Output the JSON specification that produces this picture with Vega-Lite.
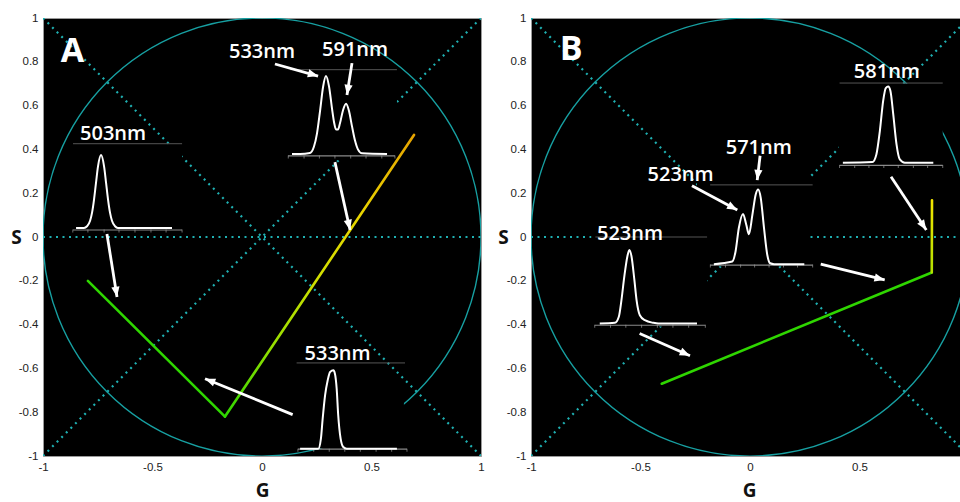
{
"$schema":"https://vega.github.io/schema/vega-lite/v6.json",
"background":"white",
"padding":{"left":10,"top":11,"right":0,"bottom":0},
"spacing":12,
"config":{
 "locale":{"number":{"decimal":".","thousands":",","grouping":[3],"currency":["$",""],"minus":"-"}},
 "view":{"fill":"black","stroke":"#9a9a9a","strokeWidth":1},
 "axis":{"labelFont":"Liberation Sans","labelFontSize":11.5,"labelColor":"#222","ticks":false,"domain":false,"grid":false,"labelPadding":5,"labelFlush":false,"titleFont":"Open Sans","titleFontSize":19,"titleFontWeight":"bold","titleColor":"#111"}
},
"datasets":{
 "circle":[{"panel":"A","G":0,"S":0},{"panel":"B","G":0,"S":0}],
 "guides":[
  {"panel":"A","G":-1,"S":1,"G2":1,"S2":-1},{"panel":"A","G":-1,"S":-1,"G2":1,"S2":1},{"panel":"A","G":-1,"S":0,"G2":1,"S2":0},
  {"panel":"B","G":-1,"S":1,"G2":1,"S2":-1},{"panel":"B","G":-1,"S":-1,"G2":1,"S2":1},{"panel":"B","G":-1,"S":0,"G2":1,"S2":0}],
 "masks":[
  {"panel":"A","G":-0.863,"G2":-0.365,"S":0.42,"S2":0.014},
  {"panel":"A","G":0.119,"G2":0.616,"S":0.77,"S2":0.352},
  {"panel":"A","G":0.155,"G2":0.648,"S":-0.685,"S2":-0.963},
  {"panel":"B","G":-0.724,"G2":-0.196,"S":0.05,"S2":-0.409},
  {"panel":"B","G":-0.242,"G2":0.27,"S":0.431,"S2":-0.134},
  {"panel":"B","G":0.406,"G2":0.88,"S":0.70,"S2":0.316}],
 "paths":[
  {"panel":"A","G":-0.795,"S":-0.2},{"panel":"A","G":-0.169,"S":-0.82},
  {"panel":"B","G":-0.403,"S":-0.67},{"panel":"B","G":0.83,"S":-0.162}],
 "ramps":[
  {"panel":"A","G":-0.169,"S":-0.82},{"panel":"A","G":0.694,"S":0.466},
  {"panel":"B","G":0.83,"S":-0.162},{"panel":"B","G":0.831,"S":0.168}],
 "arrows":[
  {"panel":"A","G":-0.708,"S":0.014,"G2":-0.662,"S2":-0.274},
  {"panel":"A","G":0.333,"S":0.342,"G2":0.402,"S2":0.032},
  {"panel":"A","G":0.14,"S":-0.811,"G2":-0.26,"S2":-0.647},
  {"panel":"A","G":0.059,"S":0.79,"G2":0.256,"S2":0.735},
  {"panel":"A","G":0.411,"S":0.794,"G2":0.388,"S2":0.648},
  {"panel":"B","G":-0.504,"S":-0.441,"G2":-0.274,"S2":-0.542},
  {"panel":"B","G":-0.265,"S":0.234,"G2":-0.058,"S2":0.123},
  {"panel":"B","G":0.046,"S":0.371,"G2":0.033,"S2":0.26},
  {"panel":"B","G":0.644,"S":0.275,"G2":0.805,"S2":0.032},
  {"panel":"B","G":0.323,"S":-0.124,"G2":0.615,"S2":-0.196}],
 "frames":[
  {"panel":"A","kind":"head","G":-0.863,"G2":-0.365,"S":0.426},
  {"panel":"A","kind":"base","G":-0.863,"G2":-0.365,"S":0.032},
  {"panel":"A","kind":"head","G":0.128,"G2":0.616,"S":0.764},
  {"panel":"A","kind":"base","G":0.119,"G2":0.607,"S":0.37},
  {"panel":"A","kind":"head","G":0.158,"G2":0.653,"S":-0.575},
  {"panel":"A","kind":"base","G":0.164,"G2":0.662,"S":-0.969},
  {"panel":"B","kind":"head","G":-0.706,"G2":-0.196,"S":0.0},
  {"panel":"B","kind":"base","G":-0.709,"G2":-0.204,"S":-0.403},
  {"panel":"B","kind":"head","G":-0.182,"G2":0.286,"S":0.238},
  {"panel":"B","kind":"base","G":-0.182,"G2":0.286,"S":-0.128},
  {"panel":"B","kind":"head","G":0.409,"G2":0.88,"S":0.703},
  {"panel":"B","kind":"base","G":0.409,"G2":0.88,"S":0.327}],
 "ticks":[
  {"panel":"A","G":-0.864,"S":0.032},{"panel":"A","G":-0.795,"S":0.032},{"panel":"A","G":-0.721,"S":0.032},{"panel":"A","G":-0.653,"S":0.032},{"panel":"A","G":-0.58,"S":0.032},{"panel":"A","G":-0.507,"S":0.032},{"panel":"A","G":-0.438,"S":0.032},{"panel":"A","G":-0.365,"S":0.032},
  {"panel":"A","G":0.12,"S":0.37},{"panel":"A","G":0.192,"S":0.37},{"panel":"A","G":0.262,"S":0.37},{"panel":"A","G":0.333,"S":0.37},{"panel":"A","G":0.405,"S":0.37},{"panel":"A","G":0.475,"S":0.37},{"panel":"A","G":0.547,"S":0.37},{"panel":"A","G":0.607,"S":0.37},
  {"panel":"A","G":0.164,"S":-0.969},{"panel":"A","G":0.236,"S":-0.969},{"panel":"A","G":0.307,"S":-0.969},{"panel":"A","G":0.378,"S":-0.969},{"panel":"A","G":0.449,"S":-0.969},{"panel":"A","G":0.521,"S":-0.969},{"panel":"A","G":0.592,"S":-0.969},{"panel":"A","G":0.662,"S":-0.969},
  {"panel":"B","G":-0.709,"S":-0.403},{"panel":"B","G":-0.637,"S":-0.403},{"panel":"B","G":-0.567,"S":-0.403},{"panel":"B","G":-0.495,"S":-0.403},{"panel":"B","G":-0.423,"S":-0.403},{"panel":"B","G":-0.352,"S":-0.403},{"panel":"B","G":-0.28,"S":-0.403},{"panel":"B","G":-0.204,"S":-0.403},
  {"panel":"B","G":-0.181,"S":-0.128},{"panel":"B","G":-0.112,"S":-0.128},{"panel":"B","G":-0.043,"S":-0.128},{"panel":"B","G":0.021,"S":-0.128},{"panel":"B","G":0.087,"S":-0.128},{"panel":"B","G":0.153,"S":-0.128},{"panel":"B","G":0.217,"S":-0.128},{"panel":"B","G":0.286,"S":-0.128},
  {"panel":"B","G":0.409,"S":0.327},{"panel":"B","G":0.478,"S":0.327},{"panel":"B","G":0.543,"S":0.327},{"panel":"B","G":0.611,"S":0.327},{"panel":"B","G":0.677,"S":0.327},{"panel":"B","G":0.746,"S":0.327},{"panel":"B","G":0.811,"S":0.327},{"panel":"B","G":0.88,"S":0.327}],
 "spectra":[
  {"panel":"A","inset":"a1","G":-0.849,"S":0.041},{"panel":"A","inset":"a1","G":-0.813,"S":0.041},{"panel":"A","inset":"a1","G":-0.799,"S":0.049},{"panel":"A","inset":"a1","G":-0.785,"S":0.074},{"panel":"A","inset":"a1","G":-0.776,"S":0.111},{"panel":"A","inset":"a1","G":-0.767,"S":0.171},{"panel":"A","inset":"a1","G":-0.758,"S":0.247},{"panel":"A","inset":"a1","G":-0.749,"S":0.321},{"panel":"A","inset":"a1","G":-0.735,"S":0.374},{"panel":"A","inset":"a1","G":-0.721,"S":0.321},{"panel":"A","inset":"a1","G":-0.712,"S":0.247},{"panel":"A","inset":"a1","G":-0.703,"S":0.171},{"panel":"A","inset":"a1","G":-0.694,"S":0.111},{"panel":"A","inset":"a1","G":-0.685,"S":0.074},{"panel":"A","inset":"a1","G":-0.671,"S":0.049},{"panel":"A","inset":"a1","G":-0.658,"S":0.041},{"panel":"A","inset":"a1","G":-0.411,"S":0.041},
  {"panel":"A","inset":"a2","G":0.137,"S":0.379},{"panel":"A","inset":"a2","G":0.174,"S":0.379},{"panel":"A","inset":"a2","G":0.219,"S":0.384},{"panel":"A","inset":"a2","G":0.237,"S":0.412},{"panel":"A","inset":"a2","G":0.251,"S":0.472},{"panel":"A","inset":"a2","G":0.265,"S":0.575},{"panel":"A","inset":"a2","G":0.279,"S":0.686},{"panel":"A","inset":"a2","G":0.292,"S":0.735},{"panel":"A","inset":"a2","G":0.306,"S":0.688},{"panel":"A","inset":"a2","G":0.32,"S":0.584},{"panel":"A","inset":"a2","G":0.329,"S":0.524},{"panel":"A","inset":"a2","G":0.338,"S":0.491},{"panel":"A","inset":"a2","G":0.347,"S":0.491},{"panel":"A","inset":"a2","G":0.356,"S":0.519},{"panel":"A","inset":"a2","G":0.37,"S":0.579},{"panel":"A","inset":"a2","G":0.384,"S":0.608},{"panel":"A","inset":"a2","G":0.397,"S":0.576},{"panel":"A","inset":"a2","G":0.411,"S":0.505},{"panel":"A","inset":"a2","G":0.425,"S":0.439},{"panel":"A","inset":"a2","G":0.438,"S":0.4},{"panel":"A","inset":"a2","G":0.457,"S":0.382},{"panel":"A","inset":"a2","G":0.571,"S":0.379},
  {"panel":"A","inset":"a3","G":0.174,"S":-0.967},{"panel":"A","inset":"a3","G":0.257,"S":-0.967},{"panel":"A","inset":"a3","G":0.269,"S":-0.921},{"panel":"A","inset":"a3","G":0.277,"S":-0.83},{"panel":"A","inset":"a3","G":0.288,"S":-0.723},{"panel":"A","inset":"a3","G":0.3,"S":-0.654},{"panel":"A","inset":"a3","G":0.311,"S":-0.616},{"panel":"A","inset":"a3","G":0.326,"S":-0.609},{"panel":"A","inset":"a3","G":0.333,"S":-0.624},{"panel":"A","inset":"a3","G":0.341,"S":-0.693},{"panel":"A","inset":"a3","G":0.348,"S":-0.814},{"panel":"A","inset":"a3","G":0.359,"S":-0.921},{"panel":"A","inset":"a3","G":0.371,"S":-0.959},{"panel":"A","inset":"a3","G":0.387,"S":-0.967},{"panel":"A","inset":"a3","G":0.616,"S":-0.967},
  {"panel":"B","inset":"b1","G":-0.686,"S":-0.395},{"panel":"B","inset":"b1","G":-0.617,"S":-0.392},{"panel":"B","inset":"b1","G":-0.599,"S":-0.364},{"panel":"B","inset":"b1","G":-0.587,"S":-0.288},{"panel":"B","inset":"b1","G":-0.574,"S":-0.181},{"panel":"B","inset":"b1","G":-0.56,"S":-0.089},{"panel":"B","inset":"b1","G":-0.551,"S":-0.059},{"panel":"B","inset":"b1","G":-0.541,"S":-0.089},{"panel":"B","inset":"b1","G":-0.528,"S":-0.196},{"panel":"B","inset":"b1","G":-0.518,"S":-0.288},{"panel":"B","inset":"b1","G":-0.503,"S":-0.357},{"panel":"B","inset":"b1","G":-0.48,"S":-0.38},{"panel":"B","inset":"b1","G":-0.441,"S":-0.392},{"panel":"B","inset":"b1","G":-0.418,"S":-0.395},{"panel":"B","inset":"b1","G":-0.242,"S":-0.395},
  {"panel":"B","inset":"b2","G":-0.165,"S":-0.124},{"panel":"B","inset":"b2","G":-0.081,"S":-0.112},{"panel":"B","inset":"b2","G":-0.066,"S":-0.066},{"panel":"B","inset":"b2","G":-0.051,"S":0.041},{"panel":"B","inset":"b2","G":-0.032,"S":0.105},{"panel":"B","inset":"b2","G":-0.017,"S":0.056},{"panel":"B","inset":"b2","G":-0.005,"S":0.013},{"panel":"B","inset":"b2","G":0.011,"S":0.102},{"panel":"B","inset":"b2","G":0.026,"S":0.194},{"panel":"B","inset":"b2","G":0.037,"S":0.217},{"panel":"B","inset":"b2","G":0.049,"S":0.179},{"panel":"B","inset":"b2","G":0.064,"S":0.041},{"panel":"B","inset":"b2","G":0.079,"S":-0.082},{"panel":"B","inset":"b2","G":0.092,"S":-0.12},{"panel":"B","inset":"b2","G":0.11,"S":-0.124},{"panel":"B","inset":"b2","G":0.248,"S":-0.124},
  {"panel":"B","inset":"b3","G":0.424,"S":0.339},{"panel":"B","inset":"b3","G":0.559,"S":0.342},{"panel":"B","inset":"b3","G":0.577,"S":0.377},{"panel":"B","inset":"b3","G":0.593,"S":0.485},{"panel":"B","inset":"b3","G":0.608,"S":0.622},{"panel":"B","inset":"b3","G":0.62,"S":0.68},{"panel":"B","inset":"b3","G":0.631,"S":0.687},{"panel":"B","inset":"b3","G":0.641,"S":0.668},{"panel":"B","inset":"b3","G":0.654,"S":0.561},{"panel":"B","inset":"b3","G":0.669,"S":0.423},{"panel":"B","inset":"b3","G":0.684,"S":0.354},{"panel":"B","inset":"b3","G":0.707,"S":0.339},{"panel":"B","inset":"b3","G":0.837,"S":0.339}],
 "labels":[
  {"panel":"A","t":"503nm","G":-0.68,"S":0.47},
  {"panel":"A","t":"533nm","G":0.0,"S":0.845},
  {"panel":"A","t":"591nm","G":0.425,"S":0.854},
  {"panel":"A","t":"533nm","G":0.345,"S":-0.533},
  {"panel":"B","t":"523nm","G":-0.548,"S":0.015},
  {"panel":"B","t":"523nm","G":-0.317,"S":0.285},
  {"panel":"B","t":"571nm","G":0.04,"S":0.408},
  {"panel":"B","t":"581nm","G":0.625,"S":0.752}],
 "letters":[{"panel":"A","t":"A","G":-0.865,"S":0.845},{"panel":"B","t":"B","G":-0.816,"S":0.853}]
},
"hconcat":[
 {
  "width":438,"height":438,
  "encoding":{
   "x":{"field":"G","type":"quantitative","scale":{"domain":[-1,1],"nice":false,"zero":false},"axis":{"values":[-1,-0.5,0,0.5,1],"format":"~g","title":"G","titleX":219,"titleY":34,"titleAlign":"center","titleBaseline":"middle"}},
   "y":{"field":"S","type":"quantitative","scale":{"domain":[-1,1],"nice":false,"zero":false},"axis":{"values":[-1,-0.8,-0.6,-0.4,-0.2,0,0.2,0.4,0.6,0.8,1],"format":"~g","title":"S","titleAngle":0,"titleX":-27,"titleY":219,"titleAlign":"center","titleBaseline":"middle"}}
  },
  "layer":[
   {"data":{"name":"circle"},"transform":[{"filter":"datum.panel==='A'"}],"mark":{"type":"point","shape":"circle","size":191844,"filled":false,"color":"#17a0a2","strokeWidth":1.4,"opacity":1,"clip":true},"encoding":{}},
   {"data":{"name":"guides"},"transform":[{"filter":"datum.panel==='A'"}],"mark":{"type":"rule","color":"#1fb0b2","strokeWidth":2.2,"strokeDash":[2,4.5],"clip":true},"encoding":{"x2":{"field":"G2"},"y2":{"field":"S2"}}},
   {"data":{"name":"masks"},"transform":[{"filter":"datum.panel==='A'"}],"mark":{"type":"rect","color":"black","clip":true},"encoding":{"x2":{"field":"G2"},"y2":{"field":"S2"}}},
   {"data":{"name":"paths"},"transform":[{"filter":"datum.panel==='A'"}],"mark":{"type":"line","color":"#2fd600","strokeWidth":2.6,"strokeCap":"round"},"encoding":{}},
   {"data":{"name":"ramps"},"transform":[{"filter":"datum.panel==='A'"}],"mark":{"type":"line","strokeWidth":2.6,"strokeCap":"round","stroke":{"gradient":"linear","x1":0,"y1":1,"x2":1,"y2":0,"stops":[{"offset":0,"color":"#2ed600"},{"offset":0.25,"color":"#96de00"},{"offset":0.5,"color":"#d2df00"},{"offset":0.72,"color":"#e8d400"},{"offset":1,"color":"#e6a300"}]}},"encoding":{}},
   {"data":{"name":"frames"},"transform":[{"filter":"datum.panel==='A' && datum.kind==='head'"}],"mark":{"type":"rule","color":"#555555","strokeWidth":1},"encoding":{"x2":{"field":"G2"}}},
   {"data":{"name":"frames"},"transform":[{"filter":"datum.panel==='A' && datum.kind==='base'"}],"mark":{"type":"rule","color":"#8a8a8a","strokeWidth":1.2},"encoding":{"x2":{"field":"G2"}}},
   {"data":{"name":"ticks"},"transform":[{"filter":"datum.panel==='A'"}],"mark":{"type":"tick","orient":"vertical","color":"#999999","size":3,"thickness":1,"yOffset":1},"encoding":{}},
   {"data":{"name":"spectra"},"transform":[{"filter":"datum.panel==='A'"}],"mark":{"type":"line","color":"white","strokeWidth":2,"interpolate":"monotone"},"encoding":{"detail":{"field":"inset"}}},
   {"data":{"name":"arrows"},"transform":[{"filter":"datum.panel==='A'"}],"mark":{"type":"rule","color":"white","strokeWidth":2.8},"encoding":{"x2":{"field":"G2"},"y2":{"field":"S2"}}},
   {"data":{"name":"arrows"},"transform":[{"filter":"datum.panel==='A'"},{"calculate":"atan2(datum.G2-datum.G, datum.S2-datum.S)*180/PI","as":"ang"},{"calculate":"datum.G2","as":"G"},{"calculate":"datum.S2","as":"S"}],"mark":{"type":"point","shape":"M0,0L0.8,2L-0.8,2Z","size":105,"filled":true,"color":"white","opacity":1},"encoding":{"angle":{"field":"ang","type":"quantitative","scale":null}}},
   {"data":{"name":"labels"},"transform":[{"filter":"datum.panel==='A'"}],"mark":{"type":"text","color":"white","font":"Open Sans","fontSize":20,"fontWeight":600,"align":"center","baseline":"middle"},"encoding":{"text":{"field":"t"}}},
   {"data":{"name":"letters"},"transform":[{"filter":"datum.panel==='A'"}],"mark":{"type":"text","color":"white","font":"Open Sans","fontSize":34,"fontWeight":"bold","align":"center","baseline":"middle"},"encoding":{"text":{"field":"t"}}}
  ]
 },
 {
  "width":431,"height":438,
  "encoding":{
   "x":{"field":"G","type":"quantitative","scale":{"domain":[-1,0.968],"nice":false,"zero":false},"axis":{"values":[-1,-0.5,0,0.5],"format":"~g","title":"G","titleX":218,"titleY":34,"titleAlign":"center","titleBaseline":"middle"}},
   "y":{"field":"S","type":"quantitative","scale":{"domain":[-1,1],"nice":false,"zero":false},"axis":{"values":[-1,-0.8,-0.6,-0.4,-0.2,0,0.2,0.4,0.6,0.8,1],"format":"~g","title":"S","titleAngle":0,"titleX":-28,"titleY":219,"titleAlign":"center","titleBaseline":"middle"}}
  },
  "layer":[
   {"data":{"name":"circle"},"transform":[{"filter":"datum.panel==='B'"}],"mark":{"type":"point","shape":"circle","size":191844,"filled":false,"color":"#17a0a2","strokeWidth":1.4,"opacity":1,"clip":true},"encoding":{}},
   {"data":{"name":"guides"},"transform":[{"filter":"datum.panel==='B'"}],"mark":{"type":"rule","color":"#1fb0b2","strokeWidth":2.2,"strokeDash":[2,4.5],"clip":true},"encoding":{"x2":{"field":"G2"},"y2":{"field":"S2"}}},
   {"data":{"name":"masks"},"transform":[{"filter":"datum.panel==='B'"}],"mark":{"type":"rect","color":"black","clip":true},"encoding":{"x2":{"field":"G2"},"y2":{"field":"S2"}}},
   {"data":{"name":"paths"},"transform":[{"filter":"datum.panel==='B'"}],"mark":{"type":"line","color":"#2fd600","strokeWidth":2.6,"strokeCap":"round"},"encoding":{}},
   {"data":{"name":"ramps"},"transform":[{"filter":"datum.panel==='B'"}],"mark":{"type":"line","strokeWidth":2.6,"strokeCap":"round","stroke":{"gradient":"linear","x1":0,"y1":1,"x2":0,"y2":0,"stops":[{"offset":0,"color":"#b4e000"},{"offset":1,"color":"#f2e400"}]}},"encoding":{}},
   {"data":{"name":"frames"},"transform":[{"filter":"datum.panel==='B' && datum.kind==='head'"}],"mark":{"type":"rule","color":"#555555","strokeWidth":1},"encoding":{"x2":{"field":"G2"}}},
   {"data":{"name":"frames"},"transform":[{"filter":"datum.panel==='B' && datum.kind==='base'"}],"mark":{"type":"rule","color":"#8a8a8a","strokeWidth":1.2},"encoding":{"x2":{"field":"G2"}}},
   {"data":{"name":"ticks"},"transform":[{"filter":"datum.panel==='B'"}],"mark":{"type":"tick","orient":"vertical","color":"#999999","size":3,"thickness":1,"yOffset":1},"encoding":{}},
   {"data":{"name":"spectra"},"transform":[{"filter":"datum.panel==='B'"}],"mark":{"type":"line","color":"white","strokeWidth":2,"interpolate":"monotone"},"encoding":{"detail":{"field":"inset"}}},
   {"data":{"name":"arrows"},"transform":[{"filter":"datum.panel==='B'"}],"mark":{"type":"rule","color":"white","strokeWidth":2.8},"encoding":{"x2":{"field":"G2"},"y2":{"field":"S2"}}},
   {"data":{"name":"arrows"},"transform":[{"filter":"datum.panel==='B'"},{"calculate":"atan2(datum.G2-datum.G, datum.S2-datum.S)*180/PI","as":"ang"},{"calculate":"datum.G2","as":"G"},{"calculate":"datum.S2","as":"S"}],"mark":{"type":"point","shape":"M0,0L0.8,2L-0.8,2Z","size":105,"filled":true,"color":"white","opacity":1},"encoding":{"angle":{"field":"ang","type":"quantitative","scale":null}}},
   {"data":{"name":"labels"},"transform":[{"filter":"datum.panel==='B'"}],"mark":{"type":"text","color":"white","font":"Open Sans","fontSize":20,"fontWeight":600,"align":"center","baseline":"middle"},"encoding":{"text":{"field":"t"}}},
   {"data":{"name":"letters"},"transform":[{"filter":"datum.panel==='B'"}],"mark":{"type":"text","color":"white","font":"Open Sans","fontSize":34,"fontWeight":"bold","align":"center","baseline":"middle"},"encoding":{"text":{"field":"t"}}}
  ]
 }
]
}
